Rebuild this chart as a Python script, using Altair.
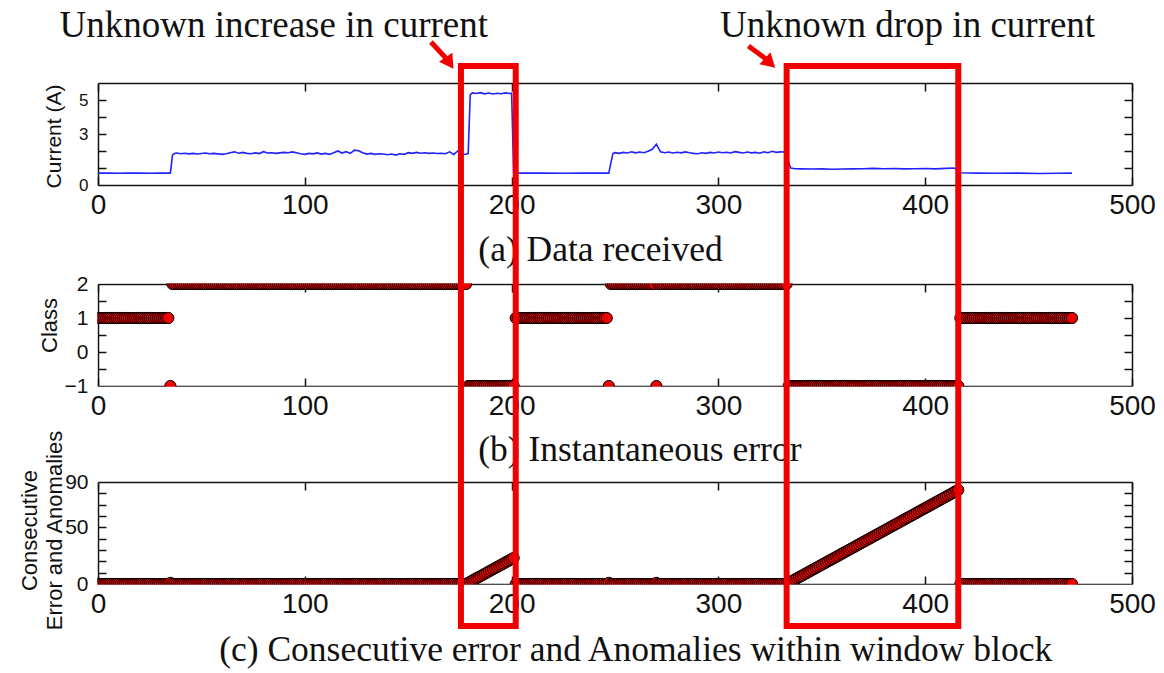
import altair as alt
import pandas as pd

W, H = 1164, 673
X0_PX, X1_PX = 98, 1132
X_TICKS = [0, 100, 200, 300, 400, 500]

# ---- panel (a): current (A) ----
cur_x = [0, 5, 10, 15, 20, 25, 30, 35, 36, 37,
         38, 40, 42, 44, 46, 48, 50, 52, 54, 56, 58, 60, 62, 64, 66, 68, 70, 72, 74, 76,
         78, 80, 82, 84, 86, 88, 90, 92, 94, 96, 98, 100, 102, 104, 106, 108, 110, 112, 114, 116,
         118, 120, 122, 124, 126, 128, 130, 132, 134, 136, 138, 140, 142, 144, 146, 148, 150, 152, 154, 156,
         158, 160, 162, 164, 166, 168, 170, 172, 174, 176, 178, 179,
         180, 181, 183, 185, 187, 189, 191, 193, 195, 197, 199, 200, 201,
         205, 215, 225, 235, 245, 247, 248, 249,
         250, 252, 254, 256, 258, 260, 262, 264, 266, 268, 270, 272, 274, 276, 278, 280, 282, 284, 286, 288,
         290, 292, 294, 296, 298, 300, 302, 304, 306, 308, 310, 312, 314, 316, 318, 320, 322, 324, 326, 328,
         330, 332, 333, 334, 335, 337,
         340, 345, 350, 355, 360, 365, 370, 375, 380, 385, 390, 395, 400, 405, 410, 414, 416, 417,
         425, 435, 445, 455, 465, 471]
cur_y = [0.70, 0.70, 0.69, 0.70, 0.70, 0.69, 0.70, 0.70, 1.75, 1.85,
         1.88, 1.84, 1.87, 1.83, 1.86, 1.82, 1.85, 1.88, 1.84, 1.86, 1.83, 1.80, 1.84, 1.90, 1.95, 1.87, 1.92, 1.86, 1.84, 1.89,
         1.85, 1.96, 1.88, 1.90, 1.86, 1.89, 1.92, 1.90, 1.95, 1.90, 1.84, 1.80, 1.86, 1.83, 1.89, 1.82, 1.86, 1.80, 1.90, 2.00,
         1.88, 1.96, 1.86, 2.05, 2.02, 1.90, 1.82, 1.86, 1.80, 1.84, 1.82, 1.78, 1.82, 1.76, 1.84, 1.80, 1.90, 1.86, 1.92, 1.87,
         1.90, 1.86, 1.88, 1.85, 1.87, 1.84, 1.95, 1.80, 2.00, 1.78, 1.82, 1.85,
         5.30, 5.42, 5.38, 5.43, 5.36, 5.41, 5.35, 5.40, 5.37, 5.42, 5.38, 5.40, 0.72,
         0.70, 0.70, 0.69, 0.70, 0.70, 0.70, 1.30, 1.85,
         1.90, 1.86, 1.92, 1.88, 1.95, 1.89, 1.94, 1.90, 1.98, 2.10, 2.40, 1.95, 1.90, 1.94, 1.88, 1.93, 1.89, 1.95, 1.90, 1.86,
         1.84, 1.90, 1.86, 1.92, 1.88, 1.94, 1.90, 1.93, 1.88, 1.96, 1.92, 1.88, 1.94, 1.89, 1.92, 1.87, 1.95, 1.90, 1.98, 1.92,
         1.95, 1.94, 1.96, 1.30, 1.00, 0.96,
         0.95, 0.94, 0.95, 0.93, 0.94, 0.95, 0.96, 0.98, 0.96, 0.97, 0.95, 0.96, 0.97, 0.95, 0.98, 1.00, 0.85, 0.72,
         0.70, 0.69, 0.70, 0.68, 0.69, 0.70]

# ---- panel (b): class, as runs (start, end, class) ----
class_runs = [(0, 34, 1), (35, 35, -1), (36, 178, 2), (179, 201, -1), (202, 246, 1),
              (247, 247, -1), (248, 269, 2), (270, 270, -1), (271, 333, 2),
              (334, 416, -1), (417, 471, 1)]

# ---- panel (c): consecutive error, runs of constant value plus two ramps ----
err_runs = [(0, 34, 0), (35, 35, 1), (36, 178, 0), (202, 246, 0), (247, 247, 1),
            (248, 269, 0), (270, 270, 1), (271, 333, 0), (417, 471, 0)]
ramp1_start = 179
ramp1 = [1, 2, 3, 4, 5, 6, 7, 8, 9, 10, 11, 12, 13, 14, 15, 16, 17, 18, 19, 20, 21, 22, 23]
ramp2_start = 334
ramp2 = [1, 2, 3, 4, 5, 6, 7, 8, 9, 10, 11, 12, 13, 14, 15, 16, 17, 18, 19, 20,
         21, 22, 23, 24, 25, 26, 27, 28, 29, 30, 31, 32, 33, 34, 35, 36, 37, 38, 39, 40,
         41, 42, 43, 44, 45, 46, 47, 48, 49, 50, 51, 52, 53, 54, 55, 56, 57, 58, 59, 60,
         61, 62, 63, 64, 65, 66, 67, 68, 69, 70, 71, 72, 73, 74, 75, 76, 77, 78, 79, 80,
         81, 82, 83]

# annotations
box_x0 = [175.5, 333.0]
box_x1 = [202.0, 416.0]
notes = ["Unknown increase in current", "Unknown drop in current"]
note_x = [85, 391.5]
arrow_tail_x = [161.0, 314.5]
arrow_head_x = [170.0, 325.0]
arrow_angle = [146, 133]
captions = ["(a) Data received", "(b) Instantaneous error",
            "(c) Consecutive error and Anomalies within window block"]
caption_x = [243, 262, 260]

# ---------- build tables ----------
df_cur = pd.DataFrame({"x": cur_x, "y": cur_y})

cls_rows = []
for s, e, c in class_runs:
    for xv in range(s, e + 1):
        cls_rows.append((xv, c))
df_cls = pd.DataFrame(cls_rows, columns=["x", "cls"])

err_rows = []
for s, e, v in err_runs:
    for xv in range(s, e + 1):
        err_rows.append((xv, v))
for i, v in enumerate(ramp1):
    err_rows.append((ramp1_start + i, v))
for i, v in enumerate(ramp2):
    err_rows.append((ramp2_start + i, v))
df_err = pd.DataFrame(err_rows, columns=["x", "err"]).sort_values("x")

panels = {
    "a": dict(domain=[0, 6], top=83, bottom=185, labels=[0, 3, 5], ticks=[1, 2, 3, 4, 5],
              lfs=17, title="Current (A)", tfs=21, tx=54, ty=136),
    "b": dict(domain=[-1, 2], top=284, bottom=386, labels=[-1, 0, 1, 2],
              ticks=[-0.5, 0, 0.5, 1, 1.5], lfs=21, title="Class", tfs=22, tx=49, ty=325),
    "c": dict(domain=[0, 90], top=482, bottom=584, labels=[0, 50, 90],
              ticks=[10, 20, 30, 40, 50, 60, 70, 80], lfs=21,
              title=["Consecutive", "Error and Anomalies"], tfs=22, tx=29, ty=530),
}

INK = "#111111"
RED = "#f00000"


def xscale():
    return alt.Scale(domain=[0, 500], range=[X0_PX, X1_PX], nice=False, zero=False)


def yscale(p):
    return alt.Scale(domain=p["domain"], range=[p["bottom"], p["top"]], nice=False, zero=False)


def label_x_axis(p):
    return alt.Axis(orient="bottom", offset=p["bottom"] - H, values=X_TICKS, ticks=False, tickSize=0,
                    domain=True, domainColor=INK, domainWidth=1.5, labels=True,
                    labelFont="Liberation Sans", labelFontSize=28, labelPadding=6,
                    labelFlush=False, labelColor=INK, grid=False, title=None)


def label_y_axis(p):
    return alt.Axis(orient="left", offset=-X0_PX, values=p["labels"], ticks=False, tickSize=0,
                    domain=True, domainColor=INK, domainWidth=1.5,
                    labelFont="Liberation Sans", labelFontSize=p["lfs"], labelPadding=10,
                    labelFlush=False, labelColor=INK, grid=False,
                    title=p["title"], titleFont="Liberation Sans", titleFontSize=p["tfs"],
                    titleFontWeight="normal", titleColor=INK, titleAngle=270,
                    titleBaseline="middle", titleAlign="center", titleLineHeight=25,
                    titleX=p["tx"] - X0_PX, titleY=p["ty"])


def tick_layers(p):
    d = pd.DataFrame({"x": [0, 500], "y": p["domain"]})
    inner = alt.Chart(d).mark_point(opacity=0).encode(
        x=alt.X("x:Q", scale=xscale(),
                axis=alt.Axis(orient="top", offset=-p["bottom"], values=X_TICKS, ticks=True,
                              tickSize=8, tickColor=INK, tickWidth=1.5, labels=False,
                              domain=False, grid=False, title=None)),
        y=alt.Y("y:Q", scale=yscale(p),
                axis=alt.Axis(orient="right", offset=X0_PX - W, values=p["ticks"], ticks=True,
                              tickSize=8, tickColor=INK, tickWidth=1.5, labels=False,
                              domain=False, grid=False, title=None)),
    )
    outer = alt.Chart(d).mark_point(opacity=0).encode(
        x=alt.X("x:Q", scale=xscale(),
                axis=alt.Axis(orient="bottom", offset=p["top"] - H, values=X_TICKS, ticks=True,
                              tickSize=8, tickColor=INK, tickWidth=1.5, labels=False,
                              domain=True, domainColor=INK, domainWidth=1.5, grid=False, title=None)),
        y=alt.Y("y:Q", scale=yscale(p),
                axis=alt.Axis(orient="left", offset=-X1_PX, values=p["ticks"], ticks=True,
                              tickSize=8, tickColor=INK, tickWidth=1.5, labels=False,
                              domain=True, domainColor=INK, domainWidth=1.5, grid=False, title=None)),
    )
    return [inner, outer]


def mask_layer(p, y0, y1, x0=0, x1=500):
    d = pd.DataFrame({"x": [x0], "x2": [x1], "y": [y0], "y2": [y1]})
    return alt.Chart(d).mark_rect(color="white").encode(
        x=alt.X("x:Q", scale=xscale(), axis=None), x2="x2:Q",
        y=alt.Y("y:Q", scale=yscale(p), axis=None), y2="y2:Q")


pA, pB, pC = panels["a"], panels["b"], panels["c"]

layers = []

DOT = 125

# panel a
layers.append(alt.Chart(df_cur).mark_line(color="#2222ff", strokeWidth=1.6).encode(
    x=alt.X("x:Q", scale=xscale(), axis=label_x_axis(pA)),
    y=alt.Y("y:Q", scale=yscale(pA), axis=label_y_axis(pA))))
layers += tick_layers(pA)

# panel b
layers.append(alt.Chart(df_cls).mark_circle(size=DOT, color="#ee0000", opacity=1,
                                            stroke="#000000", strokeWidth=1).encode(
    x=alt.X("x:Q", scale=xscale(), axis=label_x_axis(pB)),
    y=alt.Y("cls:Q", scale=yscale(pB), axis=label_y_axis(pB))))
layers += tick_layers(pB)
layers.append(mask_layer(pB, 2.025, 2.3, -5, 505))
layers.append(mask_layer(pB, -1.025, -1.25, -5, 505))
layers.append(mask_layer(pB, -1.25, 2.3, -4, -0.4))

# panel c
layers.append(alt.Chart(df_err).mark_circle(size=DOT, color="#ee0000", opacity=1,
                                            stroke="#000000", strokeWidth=1).encode(
    x=alt.X("x:Q", scale=xscale(), axis=label_x_axis(pC)),
    y=alt.Y("err:Q", scale=yscale(pC), axis=label_y_axis(pC))))
layers += tick_layers(pC)
layers.append(mask_layer(pC, -0.7, -6.5, -5, 505))
layers.append(mask_layer(pC, -6.5, 95, -4, -0.4))

# captions
df_cap = pd.DataFrame({"t": captions, "x": caption_x, "py": [250, 450, 650]})
for i in range(3):
    layers.append(alt.Chart(df_cap.iloc[[i]]).mark_text(
        font="Liberation Serif", fontSize=35.5, color=INK, align="center", baseline="middle").encode(
        x=alt.X("x:Q", scale=xscale(), axis=None), y=alt.value(int(df_cap.py.iloc[i])), text="t:N"))

# notes
df_notes = pd.DataFrame({"t": notes, "x": note_x})
layers.append(alt.Chart(df_notes).mark_text(
    font="Liberation Serif", fontSize=37, color=INK, align="center", baseline="middle").encode(
    x=alt.X("x:Q", scale=xscale(), axis=None), y=alt.value(26), text="t:N"))

# red boxes
df_box = pd.DataFrame({"x0": box_x0, "x1": box_x1})
layers.append(alt.Chart(df_box).mark_rect(fill="white", fillOpacity=0, stroke=RED, strokeWidth=6,
                                          strokeJoin="miter").encode(
    x=alt.X("x0:Q", scale=xscale(), axis=None), x2="x1:Q",
    y=alt.value(66), y2=alt.value(626)))

# arrows
for i in range(2):
    dfa = pd.DataFrame({"xt": [arrow_tail_x[i]], "xh": [arrow_head_x[i]]})
    y_tail = 42 if i == 0 else 46
    layers.append(alt.Chart(dfa).mark_rule(color=RED, strokeWidth=5).encode(
        x=alt.X("xt:Q", scale=xscale(), axis=None), x2="xh:Q",
        y=alt.value(y_tail), y2=alt.value(62)))
    layers.append(alt.Chart(dfa).mark_point(shape="triangle-up", filled=True, color=RED, opacity=1,
                                            size=260, angle=arrow_angle[i]).encode(
        x=alt.X("xh:Q", scale=xscale(), axis=None), y=alt.value(63)))

chart = alt.layer(*layers).resolve_scale(x="independent", y="independent").resolve_axis(
    x="independent", y="independent").properties(
    width=W, height=H, padding={"left": 0, "top": 0, "right": 0, "bottom": 0},
    autosize=alt.AutoSizeParams(type="none"), background="white"
).configure_view(strokeWidth=0)

chart.save("out.html", embed_options={"renderer": "svg", "actions": False})
